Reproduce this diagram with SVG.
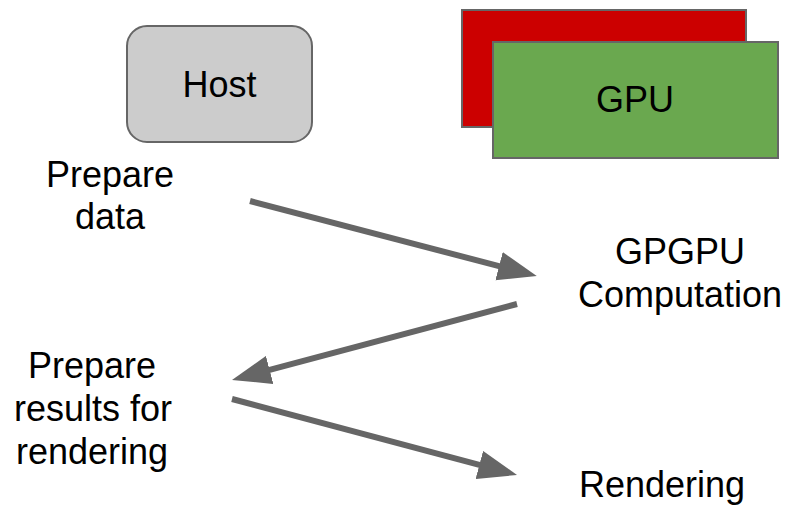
<svg xmlns="http://www.w3.org/2000/svg" width="788" height="509" viewBox="0 0 788 509">
<defs>
<style>
.t{font-family:"Liberation Sans",Arial,sans-serif;font-size:36px;fill:#000;text-anchor:middle}
.box{stroke:#666;stroke-width:2}
.c{stroke:#666;stroke-width:6;fill:none;marker-end:url(#ah)}
</style>
<marker id="ah" markerUnits="userSpaceOnUse" markerWidth="40" markerHeight="30" refX="1" refY="14.5" orient="auto" viewBox="0 0 40 29">
<path d="M0,0 L39,14.5 L0,29 Z" fill="#666"/>
</marker>
</defs>
<rect width="788" height="509" fill="#fff"/>
<g id="host">
<rect class="box" x="127" y="26" width="185" height="116" rx="20" fill="#cccccc"/>
<text class="t" x="219.5" y="97">Host</text>
</g>
<g id="gpu">
<rect class="box" x="462" y="10" width="284" height="117" fill="#cc0000"/>
<rect class="box" x="493" y="42" width="285" height="116" fill="#6aa84f"/>
<text class="t" x="635" y="112">GPU</text>
</g>
<g id="prepare-data">
<text class="t" x="110" y="187">Prepare</text>
<text class="t" x="110" y="229">data</text>
</g>
<g id="gpgpu">
<text class="t" x="680" y="264">GPGPU</text>
<text class="t" x="680" y="307">Computation</text>
</g>
<g id="prepare-results">
<text class="t" x="92" y="378">Prepare</text>
<text class="t" x="93" y="421">results for</text>
<text class="t" x="92" y="464">rendering</text>
</g>
<g id="rendering">
<text class="t" x="662" y="497">Rendering</text>
</g>
<g id="connectors">
<path class="c" d="M250,201 L500,266.4"/>
<path class="c" d="M517,304 L268.7,370.2"/>
<path class="c" d="M232,399 L480.3,465.2"/>
</g>
</svg>
